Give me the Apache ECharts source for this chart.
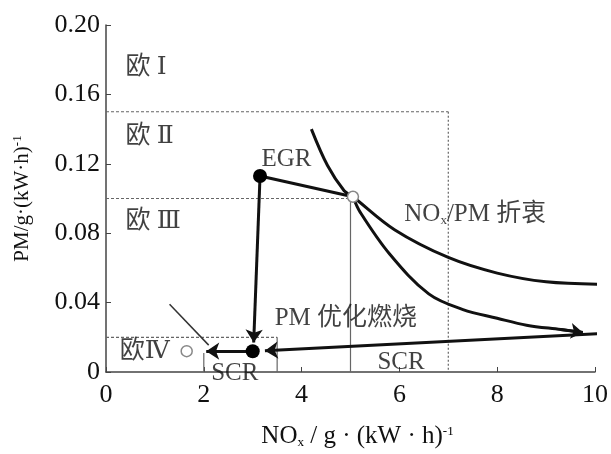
<!DOCTYPE html>
<html><head><meta charset="utf-8">
<script src="https://cdn.jsdelivr.net/npm/echarts@6/dist/echarts.min.js"></script>
<style>html,body{margin:0;padding:0;background:#fff}#c{width:611px;height:454px}</style>
</head><body><div id="c"></div>
<script>
// ---- data ----
const xTicks = [0, 2, 4, 6, 8, 10];
const yTicks = [0, 0.04, 0.08, 0.12, 0.16, 0.20];
const euroIIh = [[0, 0.15], [7, 0.15]];
const euroIIv = [[7, 0.15], [7, 0]];
const euroIIIh = [[0, 0.10], [5, 0.10]];
const euroIIIv = [[5, 0.10], [5, 0]];
const euroIVh = [[0, 0.02], [3.5, 0.02]];
const euroIVv = [[3.5, 0.02], [3.5, 0]];
const scrBoxLeft = [[2, 0.011], [2, 0]];
const tradeoffCurve = [[4.2, 0.140], [4.53, 0.119], [4.87, 0.1045], [5.05, 0.101], [5.9, 0.082], [7.0, 0.066], [8.0, 0.057], [9.0, 0.052], [10.2, 0.0505]];
const pmCurve = [[5.05, 0.101], [5.2, 0.092], [5.8, 0.068], [6.6, 0.045], [7.3, 0.036], [8.0, 0.031], [8.6, 0.027], [9.3, 0.0245], [9.75, 0.0228]];
const egrLine = [[5.05, 0.101], [3.15, 0.113]];
const egrDown = [[3.15, 0.113], [3.02, 0.017]];
const scrRight = [[10.05, 0.022], [3.25, 0.0122]];
const scrLeft = [[3.0, 0.012], [2.05, 0.012]];
const leader = [[1.3, 0.039], [2.1, 0.0155]];
const filledDots = [[3.15, 0.113], [3.0, 0.012], [10.05, 0.022]];
const openDots = [[5.05, 0.101], [1.65, 0.012]];
const labelTexts = ['欧 {rn|Ⅰ}', '欧 {rn|Ⅱ}', '欧 {rn|Ⅲ}', '欧{rn|Ⅳ}', 'EGR', 'NO{sub|x}/PM 折衷', 'PM 优化燃烧', 'SCR', 'SCR'];
const labelAnchors = [[0.4, 0.1755], [0.4, 0.136], [0.4, 0.0865], [0.28, 0.012], [3.18, 0.1225], [6.1, 0.091], [3.45, 0.031], [2.15, -0.001], [5.55, 0.0055]];

// ---- chart ----
const FONT = "'Liberation Serif','Noto Sans CJK SC',serif";
const ink = '#000';
const chart = echarts.init(document.getElementById('c'));
const boundary = (d, t) => ({type: 'line', data: d, symbol: 'none', silent: true, z: 1,
  lineStyle: {color: '#666', width: 1.2, type: t}});
const arrowLine = (d, arrow, size) => ({type: 'lines', coordinateSystem: 'cartesian2d', z: 4,
  symbol: ['none', arrow ? 'arrow' : 'none'], symbolSize: size || 13,
  lineStyle: {color: '#111', width: 3, opacity: 1},
  data: [{coords: d}]});
const rich = {sub: {fontSize: 13, fontFamily: FONT, color: ink, verticalAlign: 'bottom', padding: [10, 0, 0, 0]},
  sup: {fontSize: 13, fontFamily: FONT, color: ink, padding: [0, 0, 10, 0]}};

chart.setOption({
  animation: false,
  grid: {left: 106, right: 9, top: 25, bottom: 77},
  xAxis: {type: 'value', min: 0, max: 10, interval: 2,
    axisLine: {show: true, lineStyle: {color: '#444', width: 1.5}},
    axisTick: {show: true, inside: true, length: 5, lineStyle: {color: '#444'}},
    splitLine: {show: false},
    axisLabel: {fontFamily: FONT, fontSize: 26, color: '#111', margin: 10,
      formatter: v => xTicks.includes(v) ? String(v) : ''},
    name: 'NO{sub|x} / g · (kW · h){sup|-1}', nameLocation: 'middle', nameGap: 52,
    nameTextStyle: {fontFamily: FONT, fontSize: 25, color: '#111', rich: rich, padding: [0, 0, 0, 14]}},
  yAxis: {type: 'value', min: 0, max: 0.2, interval: 0.04,
    axisLine: {show: true, lineStyle: {color: '#444', width: 1.5}},
    axisTick: {show: true, inside: true, length: 5, lineStyle: {color: '#444'}},
    splitLine: {show: false},
    axisLabel: {fontFamily: FONT, fontSize: 26, color: '#111', margin: 6,
      formatter: v => { const t = yTicks.find(k => Math.abs(k - v) < 1e-9); return t === undefined ? '' : (t === 0 ? '0' : t.toFixed(2)); }},
    name: 'PM/g·(kW·h){sup|-1}', nameLocation: 'middle', nameGap: 72, nameRotate: 90,
    nameTextStyle: {fontFamily: FONT, fontSize: 21, color: '#111', rich: rich}},
  series: [
    boundary(euroIIh, [3, 2]), boundary(euroIIv, [2, 2]),
    boundary(euroIIIh, [3, 2]), boundary(euroIIIv, 'solid'),
    boundary(euroIVh, [3, 2]), boundary(euroIVv, 'solid'),
    boundary(scrBoxLeft, 'solid'),
    {type: 'line', data: tradeoffCurve, smooth: 0.35, symbol: 'none', z: 3,
      lineStyle: {color: '#111', width: 3}},
    {type: 'line', data: pmCurve, smooth: 0.35, symbol: 'none', z: 3,
      lineStyle: {color: '#111', width: 3}},
    arrowLine(pmCurve.slice(-2), true, 12),
    arrowLine(egrLine, false),
    arrowLine(egrDown, true),
    arrowLine(scrRight, true),
    arrowLine(scrLeft, true),
    {type: 'lines', coordinateSystem: 'cartesian2d', z: 2, symbol: ['none', 'none'],
      lineStyle: {color: '#333', width: 1.5, opacity: 1}, data: [{coords: leader}]},
    {type: 'scatter', data: filledDots, symbol: 'circle', symbolSize: 14, z: 6,
      itemStyle: {color: '#000', opacity: 1}},
    {type: 'scatter', data: openDots, symbol: 'circle', symbolSize: 11, z: 6,
      itemStyle: {color: '#fff', borderColor: '#888', borderWidth: 1.5, opacity: 1}},
    {type: 'scatter', symbolSize: 0, z: 7, silent: true, clip: false,
      data: labelAnchors.map((p, i) => ({value: p, name: labelTexts[i]})),
      label: {show: true, position: 'right', distance: 0, formatter: p => p.name,
        fontFamily: FONT, fontSize: 25, color: '#111',
        rich: {sub: {fontSize: 13, fontFamily: FONT, color: '#111', padding: [12, 0, 0, 0]},
          rn: {fontSize: 25, fontFamily: "'DejaVu Serif','Liberation Serif',serif", color: '#111'}}}}
  ]
});
</script></body></html>
